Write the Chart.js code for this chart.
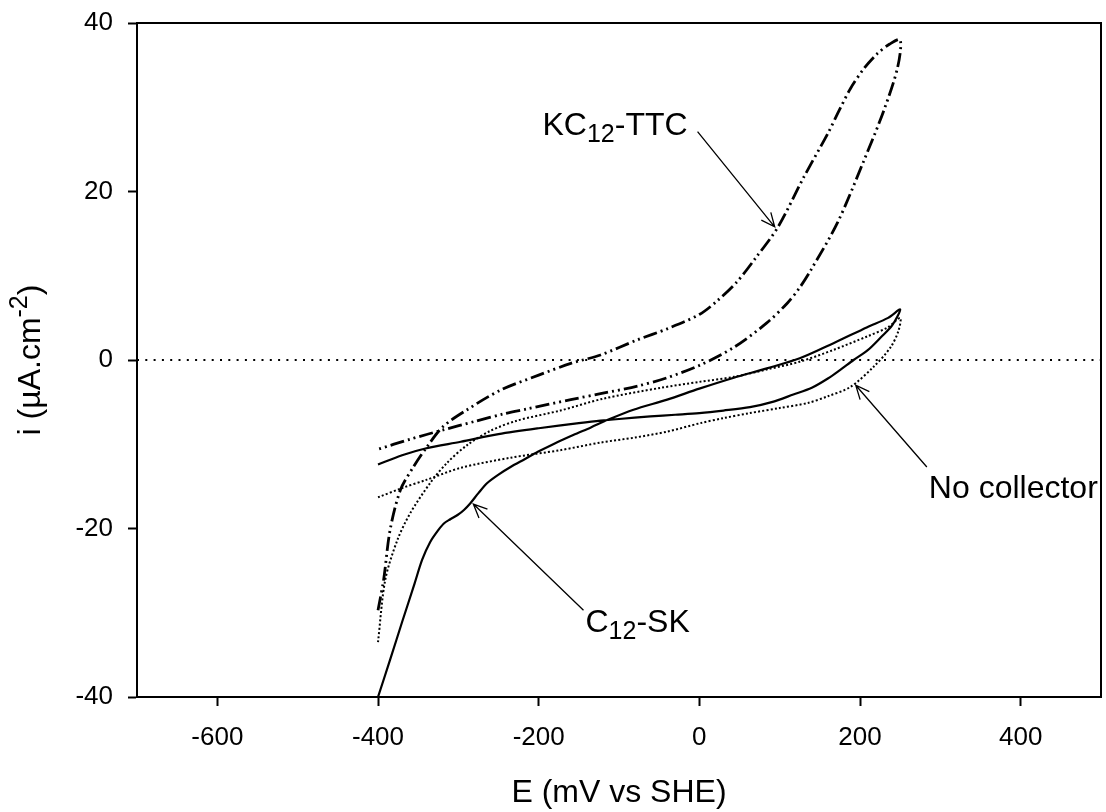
<!DOCTYPE html>
<html>
<head>
<meta charset="utf-8">
<title>Cyclic voltammetry</title>
<script src="https://cdn.jsdelivr.net/npm/chart.js@4.4.1/dist/chart.umd.min.js"></script>
<style>
  html, body { margin: 0; padding: 0; background: #fff; }
</style>
</head>
<body>
<canvas id="cv" width="1106" height="812"></canvas>
<script>
// Tick values for both axes
const eTicks = [-600, -400, -200, 0, 200, 400];
const iTicks = [-40, -20, 0, 20, 40];

// C12-SK (solid): steep branch up to +250 mV, then back along the flat branch
const skE = [-400, -385, -370, -355, -345, -335, -325, -318, -310, -301, -293, -285, -275, -264, -250, -235, -218, -201, -180, -157, -135, -114, -82, -40, 0, 43, 84, 125, 167, 209, 235, 250,
             240, 226, 210, 192, 175, 160, 140, 117, 90, 63, 30, 0, -30, -61, -100, -123, -150, -200, -250, -297, -341, -370, -400];
const skI = [-40, -35.6, -31.1, -26.7, -23.7, -21.6, -20.2, -19.4, -18.9, -18.4, -17.8, -17.0, -15.8, -14.6, -13.6, -12.7, -11.8, -10.9, -9.9, -8.9, -8.0, -7.1, -5.9, -4.7, -3.4, -2.1, -1.0, 0.2, 2.0, 3.9, 5.0, 6.0,
             4.1, 2.7, 1.2, 0.0, -1.2, -2.2, -3.3, -4.1, -5.0, -5.6, -6.0, -6.3, -6.5, -6.7, -7.0, -7.2, -7.5, -8.1, -8.8, -9.7, -10.5, -11.3, -12.4];

// No collector (dotted)
const ncE = [-400, -391, -376, -360, -335, -314, -289, -260, -227, -173, -120, -48, 0, 43, 85, 125, 167, 209, 235, 250,
             248, 238, 217, 188, 160, 135, 100, 63, 30, 1, -40, -80, -123, -173, -235, -297, -339, -370, -400];
const ncI = [-33.5, -26.1, -21.4, -18.2, -14.6, -12.2, -10.1, -8.4, -7.2, -6.0, -4.6, -3.3, -2.6, -2.0, -1.1, -0.2, 1.2, 2.8, 3.9, 5.0,
             3.5, 1.5, -0.8, -3.2, -4.3, -5.1, -5.7, -6.3, -6.9, -7.5, -8.5, -9.2, -9.8, -10.7, -11.6, -12.8, -14.2, -15.2, -16.3];

// KC12-TTC (dash-dot-dot)
const ttcE = [-400, -393, -385, -372, -356, -339, -319, -289, -248, -200, -160, -123, -77, -40, 0, 22, 47, 70, 98, 130, 160, 175, 188, 205, 222, 237, 250,
              247, 230, 205, 172, 139, 125, 110, 84, 43, 1, -40, -77, -123, -160, -214, -244, -280, -319, -360, -400];
const ttcI = [-29.7, -26.1, -20.2, -15.4, -12.7, -10.3, -7.9, -5.9, -3.6, -1.8, -0.4, 0.6, 2.4, 3.7, 5.4, 7.0, 9.3, 12.1, 15.8, 21.7, 26.9, 29.8, 32.2, 34.6, 36.4, 37.5, 38.0,
              34.8, 29.7, 23.7, 16.3, 10.7, 8.6, 6.8, 4.4, 1.5, -0.6, -2.1, -3.1, -4.0, -4.7, -5.8, -6.4, -7.3, -8.3, -9.4, -10.6];

// i = 0 reference line
const zeroE = [-700, 500];
const zeroI = [0, 0];

const FONT = '"Liberation Sans", Arial, Helvetica, sans-serif';

function toPoints(xs, ys) {
    return xs.map((x, k) => ({ x: x, y: ys[k] }));
}

// Curve labels with arrows, in data units
const notes = [
    { parts: [['KC'], ['12', 'sub'], ['-TTC']], at: [-14.6, 26.7], align: 'right', tail: [-2.2, 27.1], tip: [93.8, 15.8] },
    { parts: [['No collector']], at: [285.7, -16.4], align: 'left', tail: [283.2, -12.7], tip: [194.7, -3.0] },
    { parts: [['C'], ['12', 'sub'], ['-SK']], at: [-141.7, -32.3], align: 'left', tail: [-144.2, -29.7], tip: [-281.3, -17.1] }
];

// Writes text runs with sub/superscripts starting at (x, y) on the baseline
function drawRich(ctx, parts, x, y, size, align) {
    const fontFor = p => (p[1] ? Math.round(size * 0.78) : size) + 'px ' + FONT;
    let total = 0;
    parts.forEach(p => { ctx.font = fontFor(p); total += ctx.measureText(p[0]).width; });
    let cx = align === 'right' ? x - total : align === 'center' ? x - total / 2 : x;
    parts.forEach(p => {
        ctx.font = fontFor(p);
        let dy = 0;
        if (p[1] === 'sub') dy = size * 0.22;
        if (p[1] === 'sup') dy = -size * 0.42;
        ctx.fillText(p[0], cx, y + dy);
        cx += ctx.measureText(p[0]).width;
    });
}

function drawArrow(ctx, x0, y0, x1, y1) {
    const ang = Math.atan2(y0 - y1, x0 - x1);
    const head = 15, spread = 0.42;
    ctx.beginPath();
    ctx.moveTo(x0, y0);
    ctx.lineTo(x1, y1);
    ctx.moveTo(x1 + head * Math.cos(ang - spread), y1 + head * Math.sin(ang - spread));
    ctx.lineTo(x1, y1);
    ctx.lineTo(x1 + head * Math.cos(ang + spread), y1 + head * Math.sin(ang + spread));
    ctx.stroke();
}

// Frame on top/right, y-axis title, curve labels
const decorations = {
    id: 'decorations',
    afterDraw(chart) {
        const ctx = chart.ctx;
        const area = chart.chartArea;
        const xs = chart.scales.x, ys = chart.scales.y;
        ctx.save();
        ctx.strokeStyle = '#000';
        ctx.lineWidth = 2;
        ctx.beginPath();
        ctx.moveTo(area.left, area.top);
        ctx.lineTo(area.right, area.top);
        ctx.lineTo(area.right, area.bottom);
        ctx.stroke();

        ctx.fillStyle = '#000';
        ctx.textBaseline = 'alphabetic';
        ctx.lineWidth = 1.3;
        notes.forEach(n => {
            drawArrow(ctx,
                xs.getPixelForValue(n.tail[0]), ys.getPixelForValue(n.tail[1]),
                xs.getPixelForValue(n.tip[0]), ys.getPixelForValue(n.tip[1]));
            drawRich(ctx, n.parts, xs.getPixelForValue(n.at[0]), ys.getPixelForValue(n.at[1]), 32, n.align);
        });

        // rotated y title
        ctx.translate(40, (area.top + area.bottom) / 2);
        ctx.rotate(-Math.PI / 2);
        drawRich(ctx, [['i (\u00b5A.cm'], ['-2', 'sup'], [')']], 0, 0, 32, 'center');
        ctx.restore();
    }
};

const axisCommon = {
    type: 'linear',
    border: { display: true, color: '#000', width: 2 },
    grid: { drawOnChartArea: false, drawTicks: true, tickLength: 9, tickWidth: 2, tickColor: '#000' },
    ticks: { color: '#000', font: { family: FONT, size: 26 }, callback: v => String(v) }
};

new Chart(document.getElementById('cv'), {
    type: 'scatter',
    data: {
        datasets: [
            { label: 'i = 0', data: toPoints(zeroE, zeroI), showLine: true, borderColor: '#000', borderWidth: 1.8, borderDash: [2, 6.3], pointRadius: 0 },
            { label: 'No collector', data: toPoints(ncE, ncI), showLine: true, borderColor: '#000', borderWidth: 2, borderDash: [2, 2.2], tension: 0.3, pointRadius: 0 },
            { label: 'KC12-TTC', data: toPoints(ttcE, ttcI), showLine: true, borderColor: '#000', borderWidth: 2.8, borderDash: [14, 4, 2, 4, 2, 4], tension: 0.3, pointRadius: 0 },
            { label: 'C12-SK', data: toPoints(skE, skI), showLine: true, borderColor: '#000', borderWidth: 2.2, tension: 0.3, pointRadius: 0 }
        ]
    },
    options: {
        responsive: false,
        animation: false,
        layout: { padding: { left: 0, top: 23, right: 5, bottom: 0 } },
        plugins: { legend: { display: false }, tooltip: { enabled: false } },
        scales: {
            x: {
                ...axisCommon,
                min: -700, max: 500,
                ticks: { ...axisCommon.ticks, padding: 16, maxRotation: 0 },
                afterBuildTicks: s => { s.ticks = eTicks.map(v => ({ value: v })); },
                afterFit: s => { s.height = 115; s.paddingLeft = 0; s.paddingRight = 0; },
                title: { display: true, text: 'E (mV vs SHE)', color: '#000', font: { family: FONT, size: 32 }, padding: { top: 0, bottom: 0 } }
            },
            y: {
                ...axisCommon,
                min: -40, max: 40,
                ticks: { ...axisCommon.ticks, padding: 15 },
                afterBuildTicks: s => { s.ticks = iTicks.map(v => ({ value: v })); },
                afterFit: s => { s.width = 137; s.paddingTop = 0; s.paddingBottom = 0; }
            }
        }
    },
    plugins: [decorations]
});
</script>
</body>
</html>
